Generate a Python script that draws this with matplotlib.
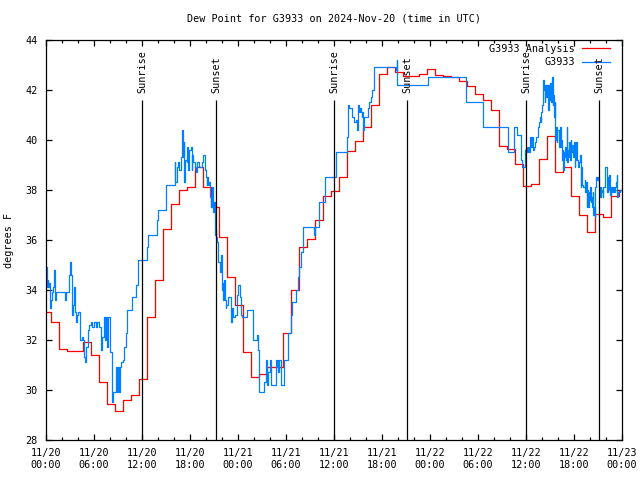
import numpy as np
import pandas as pd
import matplotlib
matplotlib.use("Agg")
import matplotlib.pyplot as plt
import matplotlib.dates as mdates

# hourly analysis values (first step starts 2024-11-19 23:39 UTC)
analysis_start = "2024-11-19 23:39"
analysis_dewpt = [
    33.1, 32.7, 31.65, 31.55, 31.55, 31.9, 31.4, 30.3, 29.45, 29.15, 29.6, 29.8,
    30.45, 32.9, 34.4, 36.45, 37.45, 38.0, 38.1, 38.9, 38.1, 37.3, 36.1, 34.5,
    33.4, 31.5, 30.5, 30.65, 30.9, 30.9, 32.3, 34.0, 35.7, 36.05, 36.8, 37.75,
    37.95, 38.5, 39.55, 39.95, 40.5, 41.4, 42.65, 42.9, 42.7, 42.55, 42.55, 42.65,
    42.85, 42.6, 42.55, 42.5, 42.35, 42.15, 41.85, 41.6, 41.2, 39.75, 39.65, 39.05,
    38.15, 38.25, 39.25, 40.15, 38.7, 38.9, 37.75, 37.0, 36.3, 37.05, 36.9, 37.75,
    38.0,
]

# station observations: hours after 2024-11-20 00:00 UTC
obs_hours = [
    0.0, 0.1, 0.2, 0.3, 0.4, 0.45, 0.6, 0.75, 0.85, 1.0, 1.1, 1.25, 2.35, 2.55,
    2.9, 2.95, 3.1, 3.2, 3.4, 3.5, 3.6, 3.7, 3.85, 4.0,
    4.25, 4.45, 4.6, 4.7, 4.75, 4.9, 5.0, 5.2, 5.4, 5.6, 5.8, 6.0, 6.2, 6.4,
    6.6, 6.85, 7.05, 7.25, 7.4, 7.55, 7.65, 7.8, 7.95,
    8.3, 8.4, 8.6, 8.8, 8.9, 9.0, 9.1, 9.25, 9.35, 9.6, 9.75, 9.95, 10.15, 10.8,
    11.2, 11.5,
    12.66, 12.8, 13.85, 14.05, 15.0,
    15.9, 16.1, 16.15, 16.4, 16.55, 16.65, 16.85, 16.95, 17.05, 17.1, 17.2, 17.3,
    17.4, 17.6, 17.65, 17.8, 17.9, 18.1, 18.2, 18.3, 18.4, 18.6, 18.75, 18.85,
    19.05, 19.15, 19.4, 19.55, 19.65, 19.9,
    20.0, 20.1, 20.15, 20.25, 20.4, 20.5, 20.6, 20.7, 20.85, 21.0, 21.1, 21.2,
    21.3, 21.35, 21.45, 21.55, 21.75, 21.9, 21.95, 22.1, 22.15, 22.3, 22.4, 22.45,
    22.5, 22.7,
    23.1, 23.2, 23.35, 23.6, 23.85, 24.05, 24.25, 24.4, 24.45, 25.15, 25.9, 26.35,
    26.45, 26.6, 26.65, 27.25, 27.5, 27.6, 27.8, 28.0, 28.1, 28.7, 28.85, 28.95,
    29.05, 29.15, 29.35, 29.75, 30.3, 30.6, 30.7, 30.85, 31.25, 31.55, 31.65, 31.85,
    32.15, 33.55, 33.6, 34.1, 34.9, 36.25,
    37.6, 37.7, 37.8, 37.9, 38.3, 38.55, 38.75, 38.85, 38.9, 38.95, 39.05, 39.1,
    39.25, 39.35, 39.45, 39.55, 39.65, 39.75, 40.2, 40.3, 40.4, 40.6, 40.8, 41.0,
    43.6, 43.75, 43.85, 43.9, 47.8, 52.5, 54.6, 57.8, 58.55, 58.85, 59.35, 59.55,
    59.9,
    60.0, 60.17, 60.3, 60.42, 60.5, 60.63, 60.71, 60.83, 61.04, 61.13, 61.25, 61.46,
    61.54, 61.67, 61.75, 61.83, 61.92, 62.0, 62.08, 62.17, 62.25, 62.33, 62.42, 62.5,
    62.67, 62.75, 62.83, 62.92, 63.0, 63.08, 63.17, 63.25, 63.33, 63.42, 63.5, 63.58,
    63.67, 63.75, 63.83, 63.92, 64.08, 64.17, 64.25, 64.33, 64.42, 64.5, 64.58, 64.67,
    64.75, 64.83, 64.92, 65.0, 65.08, 65.17, 65.25, 65.33, 65.42, 65.5, 65.58, 65.67,
    65.75, 65.83, 66.0, 66.08, 66.17, 66.25, 66.33, 66.5, 66.67, 66.75, 66.83, 66.92,
    67.0, 67.17, 67.33, 67.42, 67.5, 67.58, 67.67, 67.75, 67.83, 67.92, 68.0, 68.08,
    68.17, 68.25, 68.33, 68.42, 68.5, 68.58, 68.67, 68.75, 68.92, 69.0, 69.08, 69.17,
    69.25, 69.33, 69.42, 69.5, 69.58, 69.67, 69.83, 69.92, 70.08, 70.17, 70.25, 70.33,
    70.42, 70.5, 70.58, 70.67, 70.75, 70.83, 71.0, 71.08, 71.25, 71.33, 71.42, 71.5,
    71.67, 71.75, 72.0,
]
obs_dewpt = [
    34.9, 34.1, 34.4, 34.1, 34.3, 33.3, 33.6, 33.9, 34.1, 34.8, 33.6, 33.9, 33.6, 33.9,
    34.6, 35.1, 34.6, 33.0, 33.4, 34.1, 33.1, 32.7, 33.0, 33.1,
    32.0, 32.1, 32.0, 31.9, 31.3, 31.1, 31.7, 32.4, 32.6, 32.7, 32.5, 32.7, 32.5, 32.7,
    32.5, 31.6, 32.1, 32.9, 32.0, 32.9, 31.7, 32.9, 31.5,
    29.5, 29.9, 29.9, 30.9, 29.9, 30.9, 29.9, 30.9, 31.1, 31.2, 31.7, 32.3, 33.2, 33.7,
    34.2, 35.2,
    35.7, 36.2, 36.8, 37.2, 38.2,
    38.2, 39.1, 38.3, 38.9, 39.1, 38.8, 39.3, 39.9, 40.4, 39.3, 39.9, 38.3,
    39.2, 39.1, 39.7, 38.8, 39.6, 39.7, 38.8, 39.4, 39.1, 38.9, 38.7, 39.1,
    39.1, 38.9, 38.9, 39.1, 39.4, 38.8,
    38.5, 38.2, 38.5, 38.2, 38.3, 37.7, 37.3, 38.1, 37.1, 37.5, 36.2, 36.4,
    36.1, 35.9, 35.3, 35.1, 34.7, 35.4, 34.0, 34.3, 33.6, 34.4, 33.6, 33.3,
    33.4, 33.7,
    32.7, 33.3, 32.9, 33.0, 33.8, 34.2, 33.7, 33.0, 32.9, 33.2, 32.0, 32.2,
    31.6, 30.5, 29.9, 30.3, 31.2, 30.2, 30.7, 31.2, 30.2, 31.2, 30.9, 31.2,
    30.7, 31.2, 30.2, 31.2, 32.3, 33.0, 33.5, 33.5, 34.0, 34.5, 34.9, 35.5,
    36.5, 36.2, 36.5, 37.5, 38.5, 39.5,
    40.1, 40.5, 41.4, 41.3, 40.9, 40.7, 40.8, 40.6, 40.4, 40.9, 41.4, 41.1,
    41.3, 41.1, 40.9, 41.1, 40.4, 40.9, 41.1, 41.3, 41.5, 41.7, 42.0, 42.9,
    42.9, 42.8, 43.2, 42.2, 42.5, 41.5, 40.5, 39.5, 40.5, 40.2, 39.2, 38.9,
    39.6,
    39.7, 39.5, 39.7, 39.5, 40.1, 39.7, 40.1, 39.6, 39.7, 39.9, 40.1, 40.3,
    40.5, 40.7, 40.9, 40.7, 41.1, 41.4, 41.5, 42.4, 42.0, 41.5, 42.2, 41.7,
    42.2, 41.2, 42.2, 41.6, 42.3, 42.0, 41.5, 42.5, 41.4, 41.8, 40.9, 41.5,
    40.0, 40.5, 39.9, 40.4, 40.0, 39.7, 40.5, 39.7, 40.0, 39.2, 39.6, 38.8,
    39.5, 39.3, 39.7, 39.2, 40.5, 39.1, 39.6, 39.3, 39.9, 39.2, 40.0, 39.5,
    39.8, 39.3, 39.9, 38.9, 39.2, 39.9, 39.2, 38.9, 39.1, 39.4, 38.1, 38.9,
    38.2, 38.1, 38.4, 37.9, 38.3, 37.3, 38.0, 37.3, 37.9, 37.6, 38.1, 37.5,
    37.7, 37.3, 37.9, 37.0, 37.3, 36.9, 38.1, 38.5, 38.4, 38.5, 38.3, 38.1,
    37.7, 38.1, 37.9, 38.0, 37.7, 38.1, 38.3, 38.9, 38.9, 37.9, 38.5, 38.0,
    38.6, 37.8, 38.0, 38.1, 37.9, 38.1, 37.9, 38.1, 38.3, 38.6, 37.7, 37.9,
    37.9, 38.0, 38.0,
]
assert len(obs_hours) == len(obs_dewpt)

sun_labels = ["Sunrise", "Sunset", "Sunrise", "Sunset", "Sunrise", "Sunset"]
sun_times = ["2024-11-20 12:00", "2024-11-20 21:15", "2024-11-21 12:00",
             "2024-11-21 21:08", "2024-11-22 12:00", "2024-11-22 21:08"]

start = pd.Timestamp("2024-11-20 00:00")
end = pd.Timestamp("2024-11-23 00:00")
analysis_t = pd.date_range(analysis_start, periods=len(analysis_dewpt), freq="h")
obs_t = start + pd.to_timedelta(obs_hours, unit="h")
sun_t = pd.to_datetime(sun_times)

fs = 7.3
plt.rcParams["font.family"] = "DejaVu Sans Mono"
plt.rcParams["font.size"] = fs

fig = plt.figure(figsize=(6.4, 4.8), dpi=100)
ax = fig.add_axes([46 / 640, 40 / 480, 576 / 640, 400 / 480])

red = "#ff0000"
blue = "#0080ff"
ax.step(analysis_t, analysis_dewpt, where="post", color=red, lw=0.9)
ax.step(obs_t, obs_dewpt, where="post", color=blue, lw=0.9)

ax.vlines(sun_t, 28, 41.6, color="black", lw=0.9)
for t, lab in zip(sun_t, sun_labels):
    ax.text(t, 41.87, lab, rotation=90, ha="center", va="bottom", fontsize=fs)

ax.set_xlim(start, end)
ax.set_ylim(28, 44)
ax.set_yticks(np.arange(28, 45, 2))
ax.xaxis.set_major_locator(mdates.HourLocator(byhour=[0, 6, 12, 18]))
ax.xaxis.set_minor_locator(mdates.HourLocator(interval=2))
ax.xaxis.set_major_formatter(mdates.DateFormatter("%m/%d\n%H:%M"))
ax.tick_params(which="both", direction="in", top=True, right=True,
               width=0.9, labelsize=fs)
ax.tick_params(which="major", length=4.0, pad=6)
ax.tick_params(which="minor", length=2.0)
for s in ax.spines.values():
    s.set_linewidth(0.9)

ax.set_ylabel("degrees F", fontsize=fs, labelpad=8)
ax.set_title("Dew Point for G3933 on 2024-Nov-20 (time in UTC)", fontsize=fs, pad=13)

# key in the upper right corner
ax.text(0.918, 0.978, "G3933 Analysis", transform=ax.transAxes, ha="right", va="center")
ax.plot([0.931, 0.979], [0.98, 0.98], color=red, lw=0.9, transform=ax.transAxes)
ax.text(0.918, 0.944, "G3933", transform=ax.transAxes, ha="right", va="center")
ax.plot([0.931, 0.979], [0.945, 0.945], color=blue, lw=0.9, transform=ax.transAxes)

fig.savefig("out.png", dpi=100)
